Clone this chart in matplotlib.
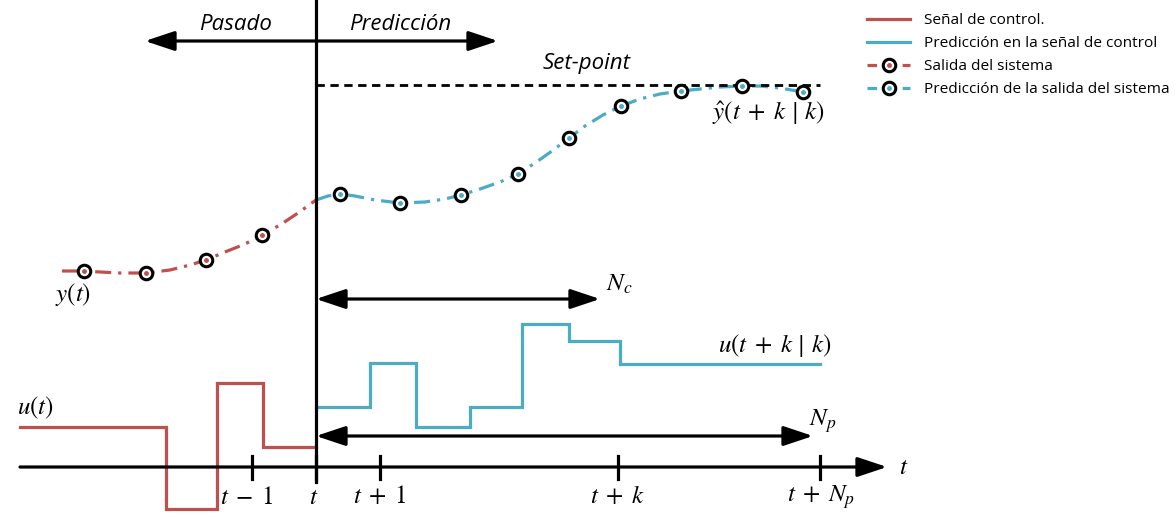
import numpy as np
import matplotlib.pyplot as plt
from matplotlib.lines import Line2D
from matplotlib.legend_handler import HandlerTuple

plt.rcParams['font.family'] = ['Open Sans', 'DejaVu Sans']
plt.rcParams['mathtext.fontset'] = 'stix'

# colours (Office palette)
RED = '#C0504D'
BLUE = '#4BACC6'

# coordinates are read in picture units (x to the right, y downwards)
# past control signal u(t)
u_past_x = [20, 166, 166, 217, 217, 263, 263, 316]
u_past_y = [427, 427, 509, 509, 383, 383, 447, 447]

# predicted control signal u(t+k|k)
u_pred_x = [316, 370, 370, 416, 416, 470, 470, 522, 522, 569, 569, 620, 620, 820]
u_pred_y = [407, 407, 363, 363, 427, 427, 407, 407, 324, 324, 341, 341, 364, 364]

# past output y(t): curve and sampled points
y_past_curve_x = [62, 84, 100, 120, 146, 170, 190, 206, 225, 245, 262, 280, 298, 316]
y_past_curve_y = [271, 271, 272, 273, 273, 270, 265, 260, 252, 244, 235, 225, 213, 200]
y_past_pts_x = [84, 146, 206, 262]
y_past_pts_y = [271, 273, 260, 235]

# predicted output y^(t+k|k): curve and sampled points
y_pred_curve_x = [316, 328, 340, 355, 375, 400, 425, 445, 461, 480, 500, 518, 535, 552,
                  569, 585, 603, 621, 640, 660, 681, 700, 720, 742, 760, 780, 803, 815]
y_pred_curve_y = [200, 196, 194, 196, 200, 203, 202, 199, 195, 189, 182, 174, 163, 151,
                  138, 126, 115, 106, 99, 94, 91, 89, 87, 86, 86, 88, 92, 94]
y_pred_pts_x = [340, 400, 461, 518, 569, 621, 681, 742, 803]
y_pred_pts_y = [194, 203, 195, 174, 138, 106, 91, 86, 92]

setpoint_y = 85
setpoint_x = [316, 820]

# time axis
axis_y = 467
tick_x = [252, 316, 380, 618, 820]
tick_labels = [r'$t\;-\;1$', r'$t$', r'$t\;+\;1$', r'$t\;+\;k$', r'$t\;+\;N_p$']
tick_label_x = [247, 314, 380, 617, 821]

fig = plt.figure(figsize=(11.75, 5.16), dpi=100)
ax = fig.add_axes([0, 0, 1, 1])
ax.set_xlim(0, 1175)
ax.set_ylim(516, 0)
ax.axis('off')

dash_dot = (0, (5, 2.2, 1, 2.2))
lw = 2.3
MS = 18

# step signals
ax.plot(u_past_x, u_past_y, color=RED, lw=lw, solid_joinstyle='miter')
ax.plot(u_pred_x, u_pred_y, color=BLUE, lw=lw, solid_joinstyle='miter')

# outputs
ax.plot(y_past_curve_x, y_past_curve_y, color=RED, lw=lw, linestyle=dash_dot)
ax.plot(y_pred_curve_x, y_pred_curve_y, color=BLUE, lw=lw, linestyle=dash_dot)
ax.plot(setpoint_x, [setpoint_y] * 2, color='black', lw=2, linestyle=(0, (3, 2)))

for px, py, c in [(y_past_pts_x, y_past_pts_y, RED), (y_pred_pts_x, y_pred_pts_y, BLUE)]:
    ax.plot(px, py, 'o', ms=9, mfc='white', mec='black', mew=2.2, zorder=5)
    ax.plot(px, py, 'o', ms=2.5, mfc=c, mec=c, zorder=6)

# vertical "now" line and time axis
ax.plot([316, 316], [0, 482], color='black', lw=2.3)
ax.annotate('', xy=(887, axis_y), xytext=(20, axis_y),
            arrowprops=dict(arrowstyle='-|>,head_length=1.2,head_width=0.4',
                            mutation_scale=15, lw=2.3, color='black',
                            shrinkA=0, shrinkB=0))
for x in tick_x:
    ax.plot([x, x], [456, 479], color='black', lw=2.3)
for x, lab in zip(tick_label_x, tick_labels):
    ax.text(x, 497, lab, ha='center', va='center', fontsize=MS)
ax.text(904, 467, r'$t$', ha='center', va='center', fontsize=MS)


def double_arrow(x0, x1, y):
    ax.annotate('', xy=(x1, y), xytext=(x0, y),
                arrowprops=dict(arrowstyle='<|-|>,head_length=1.2,head_width=0.4',
                                mutation_scale=15, lw=2.3, color='black',
                                shrinkA=0, shrinkB=0))


double_arrow(145, 498, 41)
double_arrow(316, 600, 299)
double_arrow(316, 813, 436)

ax.text(236, 25, 'Pasado', ha='center', va='center', fontsize=16, style='italic')
ax.text(400, 25, 'Predicción', ha='center', va='center', fontsize=16, style='italic')
ax.text(587, 64, 'Set-point', ha='center', va='center', fontsize=16, style='italic')

ax.text(619, 284, r'$N_c$', ha='center', va='center', fontsize=MS)
ax.text(823, 421, r'$N_p$', ha='center', va='center', fontsize=MS)
ax.text(35, 408, r'$u(t)$', ha='center', va='center', fontsize=MS)
ax.text(775, 346, r'$u(t\;+\;k\,\mid\,k)$', ha='center', va='center', fontsize=MS)
ax.text(73, 295, r'$y(t)$', ha='center', va='center', fontsize=MS)
ax.text(768, 113, r'$\hat{y}(t\;+\;k\,\mid\,k)$', ha='center', va='center', fontsize=MS)

# legend
h_ctrl = Line2D([], [], color=RED, lw=lw)
h_pctrl = Line2D([], [], color=BLUE, lw=lw)


def out_handle(c):
    ln = Line2D([], [], color=c, lw=lw, linestyle=(0, (3, 2.5)))
    m1 = Line2D([], [], ls='', marker='o', ms=9, mfc='white', mec='black', mew=2.2)
    m2 = Line2D([], [], ls='', marker='o', ms=2.5, mfc=c, mec=c)
    return (ln, m1, m2)


ax.legend([h_ctrl, h_pctrl, out_handle(RED), out_handle(BLUE)],
          ['Señal de control.', 'Predicción en la señal de control',
           'Salida del sistema', 'Predicción de la salida del sistema'],
          handler_map={tuple: HandlerTuple(ndivide=1)},
          loc='upper left', bbox_to_anchor=(867, 13), bbox_transform=ax.transData,
          frameon=False, fontsize=11.1, handlelength=2.8, handletextpad=0.9,
          labelspacing=0.52, borderpad=0, borderaxespad=0, markerscale=1.0)

fig.savefig('out.png', dpi=100)
